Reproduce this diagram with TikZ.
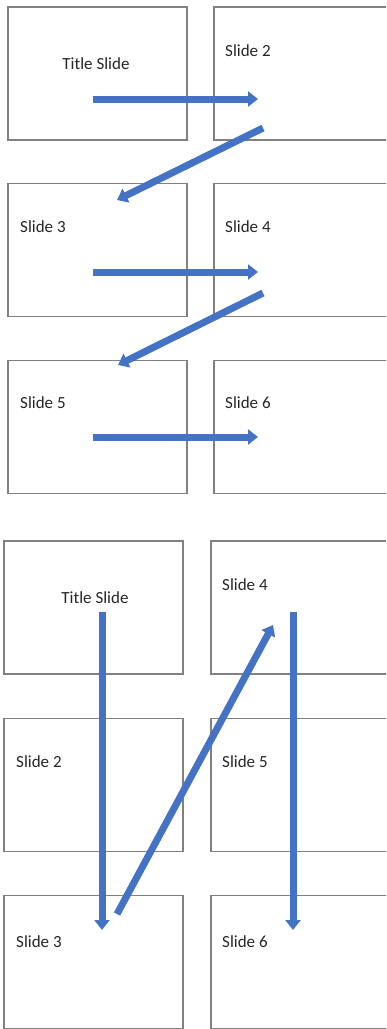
\documentclass[tikz,border=0pt]{standalone}
\usepackage{fontspec}
\setmainfont{Carlito}
\usetikzlibrary{matrix,calc,positioning,arrows.meta}
\definecolor{slideline}{HTML}{808080}
\definecolor{flowblue}{HTML}{4472C4}
\tikzset{
	slide/.style={draw=slideline, line width=1.2pt, minimum width=179pt, minimum height=133pt, inner sep=0pt},
	lbl/.style={anchor=west, inner sep=0pt, text=black!85, font=\fontsize{17}{20}\selectfont},
	flow/.style={color=flowblue, line width=7pt, -{Triangle[length=10pt,width=15pt]}}
}

\begin{document}
\begin{tikzpicture}[x=1pt,y=-1pt]
\useasboundingbox (0,0) rectangle (386,1029);
\clip (0,0) rectangle (386,1029);
% left to right, row by row
\matrix (up) [matrix of nodes, nodes in empty cells, nodes={slide}, column sep=25.8pt, row sep=42.5pt, inner sep=0pt, outer sep=0pt, anchor=north west] at (7.4,6.4)
{
	 & \\
	 & \\
	 & \\};
% top to bottom, column by column
\matrix (down) [matrix of nodes, nodes in empty cells, nodes={slide}, column sep=26.8pt, row sep=43pt, inner sep=0pt, outer sep=0pt, anchor=north west] at (3.4,540.4)
{
	 & \\
	 & \\
	 & \\};

\node[lbl, anchor=center] (u11) at (96,64) {Title Slide};
\node[lbl] (u12) at (225,51) {Slide 2};
\node[lbl] (u21) at (20,227) {Slide 3};
\node[lbl] (u22) at (225,227) {Slide 4};
\node[lbl] (u31) at (20,403) {Slide 5};
\node[lbl] (u32) at (225,403) {Slide 6};

\node[lbl, anchor=center] (d11) at (95,598) {Title Slide};
\node[lbl] (d12) at (222,585) {Slide 4};
\node[lbl] (d21) at (16,762) {Slide 2};
\node[lbl] (d22) at (222,762) {Slide 5};
\node[lbl] (d31) at (16,942) {Slide 3};
\node[lbl] (d32) at (222,942) {Slide 6};

\coordinate (a1s) at (93,99);   \coordinate (a1e) at (258,99);
\coordinate (a2s) at (263,128); \coordinate (a2e) at (117,200);
\coordinate (a3s) at (93,272);  \coordinate (a3e) at (258,272);
\coordinate (a4s) at (263,293); \coordinate (a4e) at (118,365);
\coordinate (a5s) at (93,437);  \coordinate (a5e) at (258,437);
\coordinate (b1s) at (102,612); \coordinate (b1e) at (102,930);
\coordinate (b2s) at (117,914); \coordinate (b2e) at (273,625);
\coordinate (b3s) at (293,612); \coordinate (b3e) at (293,930);

\path[flow]
(a1s) edge (a1e)
(a2s) edge (a2e)
(a3s) edge (a3e)
(a4s) edge (a4e)
(a5s) edge (a5e)
(b1s) edge (b1e)
(b2s) edge (b2e)
(b3s) edge (b3e);

\end{tikzpicture}
\end{document}
